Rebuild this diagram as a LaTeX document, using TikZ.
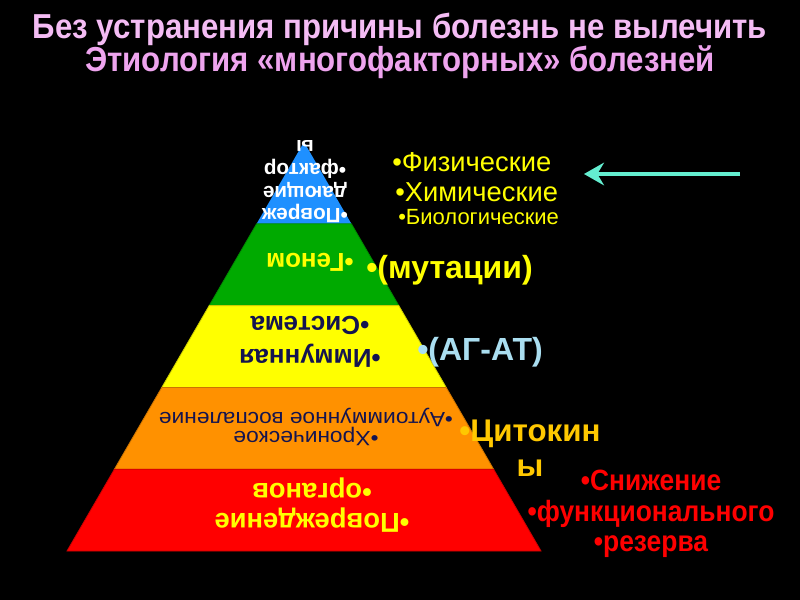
\documentclass[tikz,border=0pt]{standalone}
\usepackage{fontspec}
\setmainfont{Liberation Sans}
\newfontfamily\narrowfont{Liberation Sans}[FakeStretch=0.9]
\newfontfamily\widefont{Liberation Sans}[FakeStretch=1.1]
\usetikzlibrary{positioning,calc,arrows.meta}

\definecolor{titlepink}{RGB}{244,188,244}
\definecolor{titleviolet}{RGB}{238,164,238}
\definecolor{layblue}{RGB}{30,144,255}
\definecolor{laygreen}{RGB}{0,170,0}
\definecolor{layyellow}{RGB}{255,255,0}
\definecolor{layorange}{RGB}{255,145,0}
\definecolor{layred}{RGB}{255,0,0}
\definecolor{navytext}{RGB}{20,20,80}
\definecolor{sideyellow}{RGB}{255,255,0}
\definecolor{agblue}{RGB}{170,222,240}
\definecolor{cytogold}{RGB}{255,200,0}
\definecolor{aquaarrow}{RGB}{100,238,208}

\begin{document}
\begin{tikzpicture}[x=0.75pt, y=0.75pt, >={Stealth[length=15pt,width=17pt,inset=5pt]},
  title/.style={font=\narrowfont\bfseries\fontsize{26}{30}\selectfont},
  inside/.style={rotate=180, align=center, font=\bfseries\fontsize{15}{17}\selectfont},
  side/.style={anchor=west, text=sideyellow, inner sep=0pt, font=\fontsize{20.5}{24}\selectfont},
  bigside/.style={anchor=west, inner sep=0pt, font=\bfseries\fontsize{24}{28}\selectfont}]

  \useasboundingbox[fill=black] (0,0) rectangle (800,-600);

  % title
  \node[title, text=titlepink] (t1) at (400,-29) {Без устранения причины болезнь не вылечить};
  \node[title, text=titleviolet] (t2) at (400,-62) {Этиология «многофакторных» болезней};

  % pyramid
  \coordinate (apex) at (304,-142);
  \coordinate (bl) at (67,-551);
  \coordinate (br) at (541,-551);

  \fill[layblue] (apex) -- ($(apex)!0.2!(bl)$) -- ($(apex)!0.2!(br)$) -- cycle;
  \node[inside, text=white, font=\bfseries\fontsize{15.5}{17}\selectfont] (harm) at (305,-182)
    {•Повреж\\дающие\\•фактор\\ы};

  \foreach \c [count=\i from 2] in {laygreen,layyellow,layorange,layred} {
    \pgfmathsetmacro\ta{(\i-1)/5}
    \pgfmathsetmacro\tb{\i/5}
    \filldraw[fill=\c, draw=\c!80!black, line width=0.6pt]
      ($(apex)!\ta!(bl)$) -- ($(apex)!\tb!(bl)$) -- ($(apex)!\tb!(br)$) -- ($(apex)!\ta!(br)$) -- cycle;
  }

  \node[inside, text=sideyellow, font=\bfseries\fontsize{19.5}{20}\selectfont] (genome) at (310,-262) {•Геном};
  \node[inside, text=navytext, font=\bfseries\fontsize{19.5}{25}\selectfont] (immune) at (310,-342)
    {•Иммунная\\•Система};
  \node[inside, text=navytext, font=\widefont\fontsize{15.5}{14.5}\selectfont] (chronic) at (306,-427)
    {•Хроническое\\•Аутоиммунное воспаление};
  \node[inside, text=sideyellow, font=\bfseries\fontsize{20.5}{22.5}\selectfont] (organs) at (312,-505)
    {•Повреждение\\•органов};

  % factors on the right
  \node[side] (fiz) at (392,-162) {•Физические};
  \node[side] (him) at (395,-192) {•Химические};
  \node[side, font=\fontsize{16.5}{19}\selectfont] (bio) at (398,-217) {•Биологические};

  \node[bigside, text=sideyellow] (mut) at (366,-270) {•(мутации)};
  \node[bigside, text=agblue] (agat) at (417,-352) {•(АГ-АТ)};
  \node[bigside, anchor=center, align=center, font=\bfseries\fontsize{23.5}{26}\selectfont, text=cytogold]
    (cyto) at (530,-448) {•Цитокин\\ы};
  \node[anchor=center, align=center, text=layred, font=\narrowfont\bfseries\fontsize{22}{23}\selectfont]
    (reserve) at (651,-514) {•Снижение\\•функционального\\•резерва};

  \coordinate (arrtail) at (740,-174);
  \coordinate (arrhead) at (584,-174);
  \draw[->, aquaarrow, line width=2.4pt] (arrtail) -- (arrhead);

\end{tikzpicture}
\end{document}
